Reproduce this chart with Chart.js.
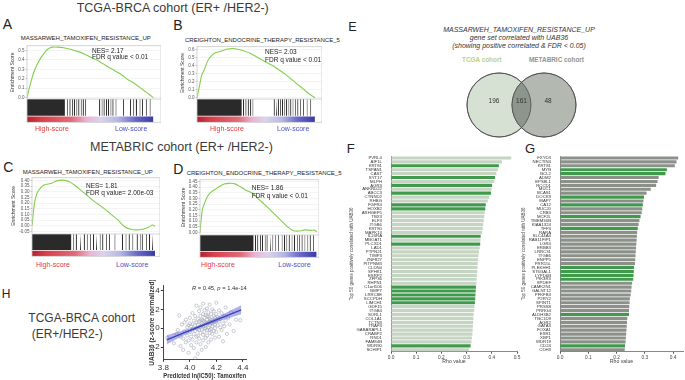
<!DOCTYPE html>
<html lang="en">
<head>
  <meta charset="UTF-8" />
  <meta name="viewport" content="width=device-width, initial-scale=1" />
  <title>UAB36 and endocrine resistance gene sets</title>
  <script src="https://cdn.jsdelivr.net/npm/chart.js"></script>
  <style>
    body {
      margin: 0;
      background: #fff;
      font-family: 'Liberation Sans', Arial, sans-serif;
      color: #333;
    }
    #fig { position: relative; width: 685px; height: 380px; overflow: hidden; }
    #fig canvas { position: absolute; }
    .t { position: absolute; white-space: nowrap; line-height: 1; }
    .big { font-size: 12.5px; color: #3a3a3a; }
    .letter { font-size: 14px; color: #222; }
    .gs { font-size: 6px; color: #222; }
    .nes { font-size: 6.5px; color: #222; }
    .hi { font-size: 7px; color: #e2383c; }
    .lo { font-size: 7px; color: #4b4fc4; }
    .vt { font-size: 7px; font-style: italic; color: #333; text-align: center; width: 200px; left: 419px; }
    .vl { font-size: 6.4px; font-weight: bold; }
  </style>
</head>
<body>
<div id="fig">
  <div class="t big" style="left:76.7px; top:1.7px">TCGA-BRCA cohort (ER+ /HER2-)</div>
  <div class="t big" style="left:90px; top:140.7px">METABRIC cohort (ER+ /HER2-)</div>

  <div class="t letter" style="left:2.7px; top:16.5px">A</div>
  <div class="t letter" style="left:173.3px; top:18.2px">B</div>
  <div class="t letter" style="left:3.3px; top:159.9px">C</div>
  <div class="t letter" style="left:173.3px; top:161.5px">D</div>
  <div class="t letter" style="left:1.7px; top:287.7px; font-size:12px">H</div>
  <div class="t letter" style="left:348.3px; top:21px; font-size:12.5px">E</div>
  <div class="t letter" style="left:346.7px; top:142.3px; font-size:13px">F</div>
  <div class="t letter" style="left:525px; top:141.6px; font-size:13px">G</div>

  <div class="t gs" style="left:20.7px; top:35.3px">MASSARWEH_TAMOXIFEN_RESISTANCE_UP</div>
  <div class="t gs" style="left:185px; top:37px">CREIGHTON_ENDOCRINE_THERAPY_RESISTANCE_5</div>
  <div class="t gs" style="left:22.7px; top:168.7px">MASSARWEH_TAMOXIFEN_RESISTANCE_UP</div>
  <div class="t gs" style="left:186.7px; top:170.3px">CREIGHTON_ENDOCRINE_THERAPY_RESISTANCE_5</div>

  <canvas id="gseaA" width="151" height="84" style="left:10px; top:42px"></canvas>
  <canvas id="gseaB" width="142" height="83" style="left:180px; top:43px"></canvas>
  <canvas id="gseaC" width="149" height="86" style="left:11px; top:174px"></canvas>
  <canvas id="gseaD" width="138" height="85" style="left:181px; top:176px"></canvas>

  <div class="t nes" style="left:92px; top:47.8px">NES= 2.17</div>
  <div class="t nes" style="left:92px; top:53.8px">FDR q value &lt; 0.01</div>
  <div class="t nes" style="left:265px; top:49.1px">NES= 2.03</div>
  <div class="t nes" style="left:265px; top:56.8px">FDR q value &lt; 0.01</div>
  <div class="t nes" style="left:86px; top:182.8px">NES= 1.81</div>
  <div class="t nes" style="left:86px; top:190.1px">FDR q value= 2.00e-03</div>
  <div class="t nes" style="left:251.7px; top:185.1px">NES= 1.86</div>
  <div class="t nes" style="left:251.7px; top:192.5px">FDR q value &lt; 0.01</div>

  <div class="t hi" style="left:35px; top:124.8px">High-score</div>
  <div class="t lo" style="left:115px; top:124.8px">Low-score</div>
  <div class="t hi" style="left:210px; top:124.8px">High-score</div>
  <div class="t lo" style="left:277px; top:124.8px">Low-score</div>
  <div class="t hi" style="left:36px; top:260.5px">High-score</div>
  <div class="t lo" style="left:116px; top:260.5px">Low-score</div>
  <div class="t hi" style="left:201px; top:261.2px">High-score</div>
  <div class="t lo" style="left:278.3px; top:261.2px">Low-score</div>

  <div class="t" style="left:28.3px; top:312.4px; font-size:12px; color:#3a3a3a">TCGA-BRCA cohort</div>
  <div class="t" style="left:31.7px; top:328.4px; font-size:12px; color:#3a3a3a">(ER+/HER2-)</div>
  <canvas id="scatterH" width="105" height="100" style="left:148px; top:280px"></canvas>
  <div class="t" style="left:192px; top:285.5px; font-size:5.8px; color:#333"><i>R</i> = 0.45, <i>p</i> = 1.4e-14</div>

  <div class="t vt" style="top:25.8px">MASSARWEH_TAMOXIFEN_RESISTANCE_UP</div>
  <div class="t vt" style="top:34.2px">gene set correlated with UAB36</div>
  <div class="t vt" style="top:42.2px">(showing positive correlated &amp; FDR &lt; 0.05)</div>
  <div class="t vl" style="left:462px; top:57px; color:#bfcd85">TCGA cohort</div>
  <div class="t vl" style="left:529px; top:57px; color:#8f968d">METABRIC cohort</div>
  <canvas id="venn" width="200" height="150" style="left:420px; top:30px"></canvas>

  <canvas id="rhoF" width="179" height="215" style="left:347px; top:150px"></canvas>
  <canvas id="rhoG" width="166" height="215" style="left:519px; top:150px"></canvas>
</div>

<script>
  // running enrichment score, read at these positions of the ranked list (%)
  const esRank = [0, 2, 4, 6, 8, 10, 13, 16, 20, 25, 30, 35, 40, 45, 50, 55, 60, 65, 70, 75, 80, 85, 90, 95, 98, 100];
  const esTcgaMassarweh = [0, 0.11, 0.21, 0.29, 0.35, 0.40, 0.46, 0.51, 0.535, 0.535, 0.525, 0.51, 0.49, 0.465, 0.43, 0.40, 0.36, 0.32, 0.28, 0.24, 0.19, 0.15, 0.10, 0.05, 0.02, 0];
  const esTcgaCreighton = [0, 0.14, 0.28, 0.34, 0.42, 0.48, 0.53, 0.56, 0.575, 0.60, 0.61, 0.60, 0.58, 0.55, 0.51, 0.47, 0.43, 0.39, 0.34, 0.29, 0.23, 0.17, 0.11, 0.05, 0.02, 0];
  const esMetabricMassarweh = [0, 0.20, 0.285, 0.32, 0.345, 0.36, 0.368, 0.375, 0.395, 0.402, 0.39, 0.355, 0.31, 0.265, 0.22, 0.18, 0.14, 0.095, 0.05, -0.005, -0.03, -0.035, -0.03, -0.01, 0.008, -0.005];
  const esMetabricCreighton = [0, 0.20, 0.26, 0.31, 0.34, 0.36, 0.38, 0.40, 0.425, 0.433, 0.428, 0.40, 0.37, 0.345, 0.295, 0.25, 0.20, 0.15, 0.10, 0.05, 0.015, 0.012, 0.022, 0.018, 0.02, 0.005];

  // gene set hits along the ranked list, [from, to] in %
  const hitsTcgaMassarweh = [[0, 30], [31.5, 32.3], [33.5, 34.5], [35.5, 36.3], [37, 38], [39, 39.8], [40.5, 41.5], [42.5, 43.3], [44, 45], [46, 46.8], [57, 58], [59, 59.8], [60.5, 61.5], [62.5, 63.3], [64, 65], [66, 66.8], [67.5, 68.5], [70, 70.8], [76, 76.8], [81.5, 82.3], [84, 84.8], [86, 87], [89, 89.8], [91, 91.8], [94, 94.8], [97, 97.8]];
  const hitsTcgaCreighton = [[0, 38], [39, 40], [41, 42], [43, 44], [45, 46], [47, 47.8], [65, 66], [67, 67.8], [68.5, 69.5], [70.5, 71.3], [72, 73], [74, 74.8], [75.5, 76.5], [77.5, 78.3], [79, 80], [81, 81.8], [83, 83.8], [85, 86], [87.5, 88.3], [90, 90.8], [93, 93.8], [96, 96.8]];
  const hitsMetabricMassarweh = [[0, 32], [33.5, 34.3], [35.5, 36.5], [39, 39.8], [42, 43], [44.5, 45.3], [47, 47.8], [49.5, 50.5], [52, 52.8], [55, 55.8], [57, 58], [60, 60.8], [62.5, 63.3], [67, 67.8], [73, 74], [76, 76.8], [78.5, 79.5], [81.5, 82.3], [85, 86], [88, 88.8], [89.5, 90.3], [92.5, 93.3], [95, 96], [97.5, 98.3]];
  const hitsMetabricCreighton = [[0, 46], [47, 48], [49, 50], [51.5, 52.3], [53, 54], [55.5, 56.3], [57, 58], [60, 60.8], [62, 62.8], [64.5, 65.3], [67, 67.8], [70, 70.8], [72, 73], [74, 74.8], [76, 77], [78.5, 79.3], [80.5, 81.5], [83, 83.8], [85, 85.8], [87, 88], [89.5, 90.3], [92, 92.8], [94, 95], [97, 97.8]];

  // Venn: TCGA only, both, METABRIC only
  const vennCounts = [196, 161, 48];

  // top 50 genes, rho with UAB36
  const fGenes = ['PVRL4', 'AIF1L', 'KRT81', 'TSPAN1', 'CAST', 'SYT17', 'MLPH', 'AGR3', 'ANKRD22', 'ABCC3', 'CTNND2', 'RHBG', 'FGFR4', 'HOXB2', 'ARHGEF5', 'TBX3', 'ELF3', 'ITGB6', 'KRT80', 'MAPK13', 'IL20RA', 'MBOAT1', 'PLCXD1', 'LAD1', 'PTPN21', 'TIMP3', 'ZNF827', 'PITPNM3', 'CLDN4', 'SPHK1', 'ESRP2', 'ZFP36', 'RHPN1', 'C1orf106', 'BMP7', 'LRRC8E', 'SCCPDH', 'LIMCH1', 'GDF15', 'ITGB4', 'SORL1', 'COL1A1', 'TCTN3', 'TRAF3', 'GABARAPL1', 'CRABP2', 'RND1', 'FAM84B', 'WDR90', 'SCHIP1'];
  const fRho = [0.477, 0.440, 0.428, 0.424, 0.418, 0.413, 0.410, 0.401, 0.399, 0.397, 0.390, 0.384, 0.376, 0.374, 0.372, 0.370, 0.368, 0.366, 0.364, 0.362, 0.356, 0.355, 0.354, 0.352, 0.349, 0.347, 0.346, 0.344, 0.343, 0.342, 0.341, 0.340, 0.339, 0.337, 0.336, 0.335, 0.334, 0.333, 0.331, 0.330, 0.328, 0.327, 0.326, 0.325, 0.324, 0.323, 0.321, 0.319, 0.316, 0.309];
  const fShared = [2, 5, 7, 9, 12, 13, 20, 22, 33, 34, 35, 36, 37, 48];

  const gGenes = ['FXYD3', 'NECTIN4', 'KRT81', 'MYB', 'BCL2', 'ADM2', 'EPS8L1', 'RCCD1', 'MUC1', 'BCAS1', 'DOCK9', 'MAP7', 'CA12', 'MUC20', 'CRB3', 'MCF2L', 'TMEM30B', 'KIAA1324', 'TFF3', 'RARA', 'SLC44A4', 'RAB11FIP1', 'LGR4', 'ERBB3', 'LRRC31', 'ITGB6', 'ENPP5', 'PRR15L', 'PLEKHH1', 'ST6GAL1', 'LYPD6B', 'PIK3R3', 'SPDEF', 'CAMK2N1', 'GALNT12', 'PFKFB3', 'P2RY2', 'SPINT1', 'PRSS8', 'PRRG4', 'ALDH3B2', 'TBC1D9', 'AGR2', 'GATA3', 'FOXA1', 'ESR1', 'XBP1', 'WDR19', 'CD24', 'CDH3'];
  const gRho = [0.418, 0.412, 0.406, 0.378, 0.373, 0.349, 0.345, 0.340, 0.321, 0.306, 0.297, 0.295, 0.293, 0.291, 0.289, 0.285, 0.281, 0.278, 0.275, 0.273, 0.272, 0.271, 0.270, 0.269, 0.268, 0.267, 0.266, 0.265, 0.262, 0.261, 0.260, 0.259, 0.255, 0.253, 0.252, 0.250, 0.247, 0.246, 0.245, 0.244, 0.244, 0.238, 0.237, 0.236, 0.235, 0.234, 0.233, 0.232, 0.230, 0.229];
  const gShared = [3, 4, 10, 12, 15, 18, 28, 29, 30, 31, 40, 48];

  // H: predicted ln(IC50) tamoxifen vs UAB36 z-score
  const tamoxPoints = [
    [3.83, -1.0], [3.88, -1.6], [3.9, -0.6], [3.92, 1.35], [3.93, -1.9], [3.94, 0.4], [3.95, -1.1], [3.95, -2.3],
    [3.96, -0.3], [3.97, 0.9], [3.97, -1.5], [3.98, -0.8], [3.98, 0.1], [3.99, -2.6], [3.99, -1.3], [3.91, -0.2],
    [3.96, 0.6], [3.93, -0.9], [4.0, 0.5], [4.0, -0.4], [4.0, 1.1], [4.01, -1.8], [4.01, -0.9], [4.01, 0.2],
    [4.02, -0.1], [4.02, 1.6], [4.02, -1.2], [4.03, 0.8], [4.03, -0.6], [4.03, -2.1], [4.04, 0.3], [4.04, -3.2],
    [4.04, 1.3], [4.04, -0.3], [4.05, 2.4], [4.05, -1.5], [4.05, 0.0], [4.05, 0.6], [4.06, -0.8], [4.06, 1.0],
    [4.06, -2.7], [4.06, 0.4], [4.07, -0.2], [4.07, 1.8], [4.07, -1.1], [4.07, 0.7], [4.08, 0.1], [4.08, -0.5],
    [4.08, 2.2], [4.08, 1.3], [4.08, -1.7], [4.09, 0.5], [4.09, -0.1], [4.09, 0.9], [4.09, -2.3], [4.1, 1.5],
    [4.1, 0.2], [4.1, -0.7], [4.1, 2.6], [4.1, -1.3], [4.1, 0.8], [4.11, 0.0], [4.11, 1.1], [4.11, -0.4],
    [4.11, 1.9], [4.12, 0.6], [4.12, -1.0], [4.12, 0.3], [4.12, 1.4], [4.12, -2.0], [4.13, 0.9], [4.13, -0.2],
    [4.13, 2.1], [4.13, 0.5], [4.13, -0.8], [4.14, 1.2], [4.14, 0.1], [4.14, -1.5], [4.14, 1.7], [4.15, 0.7],
    [4.15, -0.5], [4.15, 0.3], [4.15, 2.5], [4.15, 1.0], [4.16, -0.1], [4.16, 1.5], [4.16, 0.5], [4.16, -1.2],
    [4.17, 0.9], [4.17, 2.0], [4.17, 0.2], [4.17, -0.6], [4.18, 1.3], [4.18, 0.6], [4.18, -0.3], [4.18, 1.8],
    [4.19, 0.0], [4.19, 1.1], [4.19, -1.0], [4.19, 0.4], [4.2, 2.7], [4.2, 0.8], [4.2, -0.4], [4.2, 1.5],
    [4.21, 0.3], [4.21, 1.2], [4.22, -0.9], [4.22, 0.7], [4.22, 1.9], [4.23, 0.1], [4.23, 1.0], [4.24, -0.2],
    [4.24, 1.6], [4.25, 0.5], [4.25, -1.4], [4.26, 1.3], [4.26, 0.2], [4.27, 2.2], [4.27, 0.8], [4.28, -0.6],
    [4.29, 1.1], [4.3, 0.4], [4.31, 1.7], [4.33, -0.3], [4.35, 0.9], [4.38, 0.85], [4.06, -0.1], [4.09, 0.3],
    [4.12, 0.0], [4.14, 0.6], [4.11, 0.7], [4.08, 0.8], [4.15, -0.2], [4.13, 1.3], [4.17, 0.5], [4.05, -0.9],
    [4.02, 0.4], [3.99, 0.3], [4.19, 0.7], [4.16, 0.9]
  ];
  // linear fit and its 95% band
  const fitX = [3.826, 3.95, 4.075, 4.2, 4.388];
  const fitY = [-1.23, -0.53, 0.18, 0.88, 1.95];
  const fitLow = [-1.72, -0.81, 0.03, 0.63, 1.47];
  const fitHigh = [-0.74, -0.25, 0.33, 1.13, 2.43];

  Chart.defaults.font.family = "'Liberation Sans', Arial, sans-serif";
  Chart.defaults.color = '#333';
  Chart.defaults.animation = false;
  Chart.defaults.events = [];
  Chart.defaults.plugins.legend.display = false;
  Chart.defaults.plugins.tooltip.enabled = false;

  // ---- GSEA panels ----
  const scoreStops = [[0, '#b3222e'], [0.12, '#d8404c'], [0.35, '#e06a78'], [0.47, '#e9b4d4'], [0.58, '#dcd4ec'], [0.72, '#b4b6e4'], [0.85, '#6a6cc8'], [1, '#3a3aa6']];

  function scoreGradient(ctx) {
    const chart = ctx.chart;
    if (!chart.chartArea || !chart.scales.x) return '#ccc';
    const xs = chart.scales.x;
    const g = chart.ctx.createLinearGradient(xs.getPixelForValue(0), 0, xs.getPixelForValue(100), 0);
    scoreStops.forEach(([o, c]) => g.addColorStop(o, c));
    return g;
  }

  function hitRuns(runs) {
    return runs.flatMap(([a, b]) => [{ x: a, y: 1 }, { x: b, y: 1 }, { x: b, y: null }]);
  }

  const gseaFrame = {
    id: 'gseaFrame',
    afterDraw(chart) {
      const { ctx, chartArea: a, scales } = chart;
      const split = Math.max(scales.y.top, scales.yb.top);
      ctx.save();
      ctx.strokeStyle = '#c9c9c9';
      ctx.lineWidth = 0.8;
      ctx.strokeRect(a.left, a.top, a.right - a.left, a.bottom - a.top);
      ctx.beginPath();
      ctx.moveTo(a.left, split);
      ctx.lineTo(a.right, split);
      ctx.stroke();
      ctx.restore();
    }
  };

  function gseaChart(id, c) {
    return new Chart(document.getElementById(id), {
      type: 'line',
      data: {
        datasets: [
          {
            data: esRank.map((r, i) => ({ x: r, y: c.es[i] })),
            yAxisID: 'y', borderColor: '#82cf4c', borderWidth: 1.1, pointRadius: 0, tension: 0.3, fill: false
          },
          {
            data: hitRuns(c.hits),
            yAxisID: 'yb', borderWidth: 0, pointRadius: 0, spanGaps: false,
            fill: { value: 0.28 }, backgroundColor: '#2a2a2a'
          },
          {
            data: [{ x: 0, y: 0.25 }, { x: 100, y: 0.25 }],
            yAxisID: 'yb', borderWidth: 0, pointRadius: 0,
            fill: { value: 0 }, backgroundColor: scoreGradient
          }
        ]
      },
      options: {
        responsive: false,
        layout: { padding: { top: c.padTop, bottom: 2, left: 0, right: 0 } },
        scales: {
          x: { type: 'linear', display: false, min: 0, max: c.xMax },
          yb: {
            type: 'linear', position: 'left', stack: 'g', stackWeight: c.wBar, min: 0, max: 1,
            ticks: { display: false }, grid: { display: false }, border: { display: false },
            afterFit: s => { s.width = c.yw; }
          },
          y: {
            type: 'linear', position: 'left', stack: 'g', stackWeight: c.wEs, min: c.min, max: c.max,
            ticks: {
              stepSize: c.step, includeBounds: false, autoSkip: false, font: { size: 4.5 }, color: '#555', padding: 1,
              callback: v => v.toFixed(c.digits)
            },
            grid: { color: '#ececec', lineWidth: 0.6, tickLength: 1.5, tickColor: '#999' },
            border: { display: false },
            title: { display: true, text: 'Enrichment Score', font: { size: 5 }, color: '#333', padding: { top: 0, bottom: 0 } },
            afterFit: s => { s.width = c.yw; }
          }
        }
      },
      plugins: [gseaFrame]
    });
  }

  gseaChart('gseaA', { es: esTcgaMassarweh, hits: hitsTcgaMassarweh, padTop: 3, yw: 17, xMax: 106, min: -0.015, max: 0.55, step: 0.1, digits: 1, wEs: 55, wBar: 24 });
  gseaChart('gseaB', { es: esTcgaCreighton, hits: hitsTcgaCreighton, padTop: 3, yw: 17, xMax: 106, min: -0.015, max: 0.632, step: 0.1, digits: 1, wEs: 54, wBar: 24 });
  gseaChart('gseaC', { es: esMetabricMassarweh, hits: hitsMetabricMassarweh, padTop: 3, yw: 21, xMax: 104, min: -0.071, max: 0.423, step: 0.05, digits: 2, wEs: 58, wBar: 23 });
  gseaChart('gseaD', { es: esMetabricCreighton, hits: hitsMetabricCreighton, padTop: 3, yw: 19, xMax: 102, min: -0.023, max: 0.465, step: 0.05, digits: 2, wEs: 57, wBar: 23 });

  // ---- H: scatter with fit ----
  new Chart(document.getElementById('scatterH'), {
    type: 'scatter',
    data: {
      datasets: [
        { type: 'line', data: fitX.map((x, i) => ({ x, y: fitY[i] })), borderColor: '#3b44bd', borderWidth: 1.4, pointRadius: 0, order: 0 },
        { type: 'line', data: fitX.map((x, i) => ({ x, y: fitLow[i] })), borderWidth: 0, pointRadius: 0, tension: 0.4, order: 1 },
        {
          type: 'line', data: fitX.map((x, i) => ({ x, y: fitHigh[i] })), borderWidth: 0, pointRadius: 0, tension: 0.4,
          fill: '-1', backgroundColor: 'rgba(96, 100, 210, 0.5)', order: 1
        },
        {
          data: tamoxPoints.map(([x, y]) => ({ x, y })),
          pointRadius: 1.6, borderWidth: 0.6, borderColor: '#a4aab8', backgroundColor: 'rgba(255,255,255,0)', order: 2
        }
      ]
    },
    options: {
      responsive: false,
      layout: { padding: { top: 3, right: 7, bottom: 0, left: 0 } },
      scales: {
        x: {
          type: 'linear', min: 3.8, max: 4.424,
          ticks: { stepSize: 0.2, includeBounds: false, font: { size: 8 }, color: '#333', padding: 1, callback: v => v.toFixed(1) },
          grid: { drawOnChartArea: false, tickLength: 2.5, color: '#333' },
          border: { color: '#333', width: 0.9 },
          title: { display: true, text: 'Predicted ln(IC50): Tamoxifen', font: { size: 7, weight: 'bold' }, color: '#333', padding: 0 },
          afterFit: s => { s.height = 20.7; }
        },
        y: {
          type: 'linear', min: -3.3, max: 4.5,
          ticks: { stepSize: 2, includeBounds: false, font: { size: 8 }, color: '#333', padding: 1 },
          grid: { drawOnChartArea: false, tickLength: 2.5, color: '#333' },
          border: { color: '#333', width: 0.9 },
          title: { display: true, text: 'UAB36 (z-score normalized)', font: { size: 6.5, weight: 'bold' }, color: '#333', padding: 0 },
          afterFit: s => { s.width = 15.3; }
        }
      }
    }
  });

  // ---- E: Venn ----
  const vennLens = {
    id: 'vennLens',
    afterDatasetsDraw(chart) {
      const a = chart.getDatasetMeta(0).data[0];
      const b = chart.getDatasetMeta(1).data[0];
      const ra = a.options.radius, rb = b.options.radius;
      const ctx = chart.ctx;
      ctx.save();
      ctx.beginPath();
      ctx.arc(a.x, a.y, ra, 0, Math.PI * 2);
      ctx.clip();
      ctx.beginPath();
      ctx.arc(b.x, b.y, rb, 0, Math.PI * 2);
      ctx.fillStyle = '#8d968a';
      ctx.fill();
      ctx.restore();

      ctx.save();
      ctx.strokeStyle = '#4d4d4d';
      ctx.lineWidth = 0.8;
      [[a, ra], [b, rb]].forEach(([p, r]) => {
        ctx.beginPath();
        ctx.arc(p.x, p.y, r, 0, Math.PI * 2);
        ctx.stroke();
      });
      ctx.fillStyle = '#333';
      ctx.font = "6.5px 'Liberation Sans', Arial, sans-serif";
      ctx.textAlign = 'center';
      ctx.textBaseline = 'middle';
      ctx.fillText(String(vennCounts[0]), a.x - 5, a.y - 4);
      ctx.fillText(String(vennCounts[1]), (a.x + b.x) / 2, a.y - 4);
      ctx.fillText(String(vennCounts[2]), b.x + 4, b.y - 4);
      ctx.restore();
    }
  };

  // canvas spans 420..620 x 30..180; padding 40 keeps the plot area at 460..580 x 70..140
  new Chart(document.getElementById('venn'), {
    type: 'bubble',
    data: {
      datasets: [
        { data: [{ x: 499, y: 105, r: 32 }], backgroundColor: '#d6e1d4', borderColor: '#4d4d4d', borderWidth: 0.8, order: 2, clip: false },
        { data: [{ x: 544, y: 105, r: 32 }], backgroundColor: '#b3b9b1', borderColor: '#4d4d4d', borderWidth: 0.8, order: 1, clip: false }
      ]
    },
    options: {
      responsive: false,
      layout: { padding: 40 },
      scales: {
        x: { type: 'linear', min: 460, max: 580, display: false },
        y: { type: 'linear', min: 70, max: 140, reverse: true, display: false }
      }
    },
    plugins: [vennLens]
  });

  // ---- F, G: rho bars ----
  function rhoChart(id, genes, rho, shared, base, xMax, yw, padRight) {
    return new Chart(document.getElementById(id), {
      type: 'bar',
      data: {
        labels: genes,
        datasets: [{
          data: rho,
          backgroundColor: ctx => shared.includes(ctx.dataIndex) ? '#3f9a4c' : base,
          barPercentage: 0.8,
          categoryPercentage: 1
        }]
      },
      options: {
        responsive: false,
        indexAxis: 'y',
        layout: { padding: { top: 6, right: padRight, bottom: 0, left: 0 } },
        scales: {
          x: {
            min: 0, max: xMax,
            ticks: { stepSize: 0.1, includeBounds: false, font: { size: 4.8 }, color: '#444', padding: 1, callback: v => v.toFixed(1) },
            grid: { drawOnChartArea: false, tickLength: 2, color: '#555' },
            border: { color: '#555', width: 0.7 },
            title: { display: true, text: 'Rho value', font: { size: 5.2 }, color: '#444', padding: 0 },
            afterFit: s => { s.height = 13.3; }
          },
          y: {
            ticks: { autoSkip: false, font: { size: 4.3 }, color: '#333', padding: 1 },
            grid: { display: false },
            border: { color: '#555', width: 0.7 },
            title: { display: true, text: 'Top 50 genes positively correlated with UAB36', font: { size: 4.5 }, color: '#444', padding: { top: 2, bottom: 0 } },
            afterFit: s => { s.width = yw; }
          }
        }
      }
    });
  }

  rhoChart('rhoF', fGenes, fRho, fShared, '#c6d4c3', 0.5, 44, 9);
  rhoChart('rhoG', gGenes, gRho, gShared, '#8b9189', 0.435, 41, 2);
</script>
</body>
</html>
